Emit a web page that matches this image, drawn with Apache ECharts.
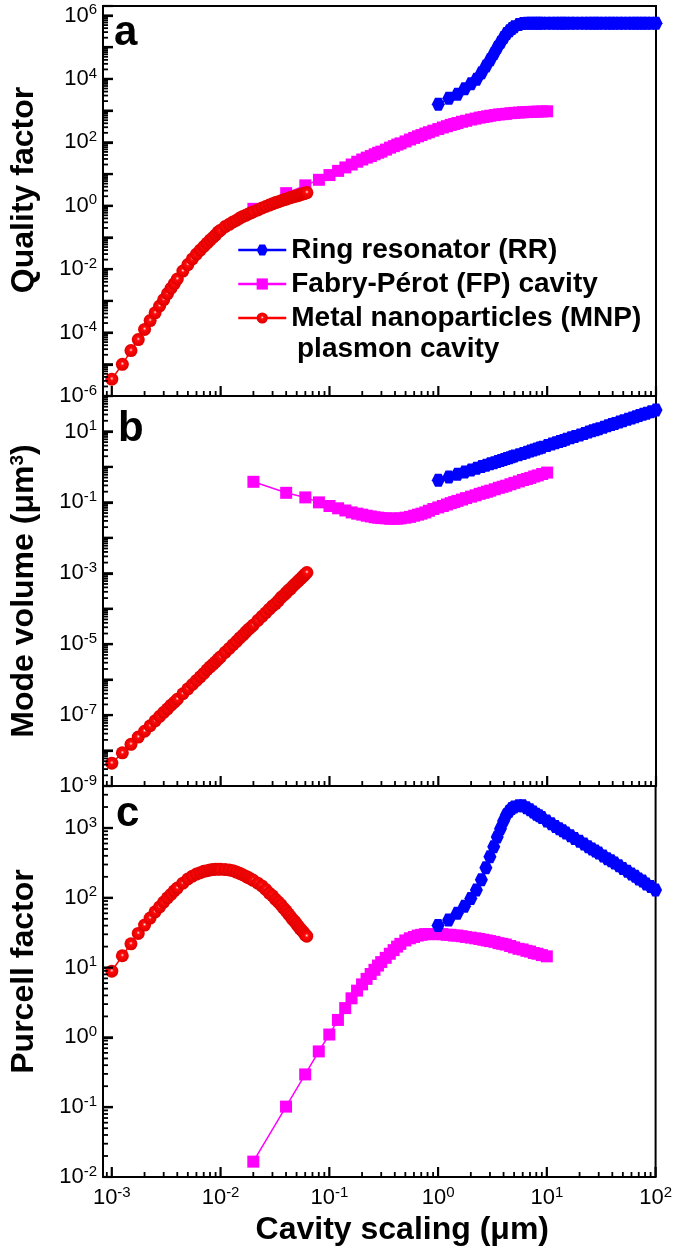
<!DOCTYPE html>
<html>
<head>
<meta charset="utf-8">
<script src="https://cdn.jsdelivr.net/npm/echarts@6/dist/echarts.min.js"></script>
<style>
html,body{margin:0;padding:0;background:#fff;}
#chart{width:675px;height:1256px;}
</style>
</head>
<body>
<div id="chart"></div>
<script>
// ---------------- DATA ----------------
const MNP_x = [0.001,0.00125,0.0015,0.00175,0.002,0.00225,0.0025,0.00275,0.003,0.00325,0.0035,0.00375,0.004,
  0.0045,0.005,0.0055,0.006,0.0065,0.007,0.0075,0.008,0.0085,0.009,0.0095,
  0.010,0.011,0.012,0.013,0.014,0.015,0.016,0.017,0.018,0.019,0.020,
  0.022,0.024,0.026,0.028,0.030,0.032,0.034,0.036,0.038,0.040,0.042,0.044,0.046,0.048,0.050,0.052,0.054,0.056,0.058,0.060,0.062];
const FP_x = [0.02,0.04,0.06,0.08,0.10,0.12,0.14,0.16,0.18,0.20,0.22,0.24,0.26,0.28,0.30,
  0.33,0.36,0.39,0.42,0.45,0.5,0.55,0.6,0.65,0.7,0.76,0.82,0.9,
  1.0,1.1,1.2,1.3,1.4,1.5,1.65,1.8,2.0,2.2,2.4,2.6,2.8,3.0,
  3.3,3.6,3.9,4.2,4.6,5.0,5.5,6.0,6.5,7.0,7.6,8.2,9.0,10.0];
const RR_x = [1,1.25,1.5,1.75,2,2.25,2.5,2.75,3,3.25,3.5,3.75,4,4.25,4.5,4.75,5,
  5.5,6,6.5,7,7.5,8,8.5,9,10,11,12,13,14,15,16.5,18,20,22,24,26,28,30,
  33,36,39,42,46,50,55,60,65,70,76,82,90,100];

// (a) Quality factor
const MNP_Q = [3.4e-6,1.0e-5,2.7e-5,6.0e-5,1.26e-4,2.4e-4,4.2e-4,6.9e-4,1.1e-3,1.7e-3,2.5e-3,3.5e-3,4.9e-3,
  8.7e-3,0.014,0.021,0.030,0.040,0.052,0.066,0.083,0.10,0.12,0.15,
  0.17,0.22,0.26,0.31,0.35,0.41,0.46,0.50,0.55,0.60,0.65,
  0.74,0.85,0.95,1.05,1.15,1.26,1.35,1.44,1.55,1.62,1.74,1.82,1.9,2.0,2.05,2.14,2.24,2.34,2.4,2.5,2.6];
const FP_Q = [0.8,2.5,4.4,6.6,9.3,12.6,16.2,20,24.5,28.8,33,37,42,47,51,
  59,68,76,85,93,107,123,138,155,170,190,209,234,
  263,295,324,355,380,407,447,479,525,562,603,631,661,692,
  724,759,776,794,832,851,871,891,902,912,923,933,944,955];
const RR_Q = [1580,2450,3310,4900,7080,9800,15800,25700,40700,63000,1.0e5,1.45e5,2.04e5,2.69e5,3.31e5,3.89e5,4.47e5,
  5.25e5,5.6e5,5.75e5,5.75e5,5.75e5,5.75e5,5.75e5,5.75e5,5.75e5,5.75e5,5.75e5,5.75e5,5.75e5,5.75e5,5.75e5,5.75e5,
  5.75e5,5.75e5,5.75e5,5.75e5,5.75e5,5.75e5,5.75e5,5.75e5,5.75e5,5.75e5,5.75e5,5.75e5,5.75e5,5.75e5,5.75e5,5.75e5,
  5.75e5,5.75e5,5.75e5,5.75e5];

// (b) Mode volume (µm^3)
const MNP_V = [4.4e-9,8.6e-9,1.5e-8,2.4e-8,3.5e-8,5.0e-8,6.9e-8,9.2e-8,1.2e-7,1.5e-7,1.9e-7,2.3e-7,2.8e-7,
  4.0e-7,5.5e-7,7.3e-7,9.5e-7,1.2e-6,1.5e-6,1.9e-6,2.3e-6,2.7e-6,3.2e-6,3.8e-6,
  4.4e-6,5.9e-6,7.6e-6,9.7e-6,1.2e-5,1.5e-5,1.8e-5,2.2e-5,2.6e-5,3.0e-5,3.5e-5,
  4.7e-5,6.1e-5,7.7e-5,9.7e-5,1.2e-4,1.4e-4,1.7e-4,2.1e-4,2.4e-4,2.8e-4,3.3e-4,3.7e-4,4.3e-4,4.9e-4,5.5e-4,6.2e-4,6.9e-4,7.7e-4,8.6e-4,9.5e-4,1.05e-3];
const FP_V = [0.38,0.186,0.138,0.100,0.079,0.068,0.059,0.052,0.048,0.045,0.042,0.040,0.038,0.037,0.036,
  0.0355,0.0347,0.0347,0.0347,0.0355,0.037,0.039,0.042,0.045,0.048,0.052,0.058,0.065,
  0.072,0.079,0.087,0.095,0.102,0.110,0.120,0.132,0.145,0.158,0.174,0.186,0.200,0.214,
  0.234,0.257,0.275,0.295,0.324,0.355,0.389,0.427,0.457,0.490,0.537,0.575,0.631,0.692];
const RR_V = [0.42,0.52,0.62,0.72,0.82,0.92,1.02,1.12,1.22,1.32,1.42,1.52,1.62,1.72,1.82,1.92,2.02,
  2.2,2.4,2.6,2.8,3.0,3.2,3.4,3.6,4.0,4.4,4.8,5.2,5.6,6.0,6.6,7.2,8.0,8.8,9.6,10.4,11.2,12,
  13.2,14.4,15.6,16.8,18.4,20,22,24,26,28,30.4,32.8,36,40];

// (c) Purcell factor
const MNP_F = [8.9,14.8,21.9,30.9,40.7,51.3,63,74,87,100,112,126,138,
  162,186,204,219,229,240,245,251,254,257,257,
  257,254,251,245,234,224,214,204,195,186,178,
  162,148,132,117,107,95,87,79,71,65,59,54,49,46,42,39,36,34,32,29.5,28.2];
const FP_F = [0.0166,0.102,0.295,0.63,1.10,1.78,2.63,3.63,4.68,5.75,6.9,8.1,9.3,10.7,12.0,
  13.8,15.8,17.8,20.0,21.9,24.5,26.3,27.5,28.8,29.5,30.2,30.2,30.2,
  30.2,30.2,29.5,29.5,28.8,28.8,28.2,27.5,26.9,26.3,25.7,25.1,24.5,24.0,
  23.4,22.4,21.9,21.4,20.4,19.5,18.6,18.2,17.4,17.0,16.2,15.8,15.1,14.5];
const RR_F = [40,48,60,76,98,129,182,269,389,537,741,977,1260,1550,1740,1900,2000,
  2090,2090,1950,1820,1700,1580,1500,1410,1260,1150,1050,977,912,851,776,708,646,589,537,501,468,437,
  398,363,339,316,288,263,240,219,204,186,174,158,145,129];

// Tick labels (decade values)
const xTickLabels = [1e-3, 1e-2, 1e-1, 1, 1e1, 1e2];
const qTickLabels = [1e-6, 1e-4, 1e-2, 1, 1e2, 1e4, 1e6];
const vTickLabels = [1e-9, 1e-7, 1e-5, 1e-3, 1e-1, 1e1];
const fTickLabels = [1e-2, 1e-1, 1, 1e1, 1e2, 1e3];

const seriesNames = ['Ring resonator (RR)', 'Fabry-Pérot (FP) cavity', 'Metal nanoparticles (MNP)'];
const yTitles = ['Quality factor', 'Mode volume (μm{sup|3})', 'Purcell factor'];
const xTitle = 'Cavity scaling (μm)';
const panelLetters = ['a', 'b', 'c'];

// ---------------- helpers ----------------
const FONT = '"Liberation Sans", Arial, Helvetica, sans-serif';
function decades(lo, hi) { const o = []; for (let e = lo; e <= hi; e++) o.push(Math.pow(10, e)); return o; }
function minors(lo, hi) { const o = []; for (let e = lo; e < hi; e++) for (let m = 2; m <= 9; m++) o.push(m * Math.pow(10, e)); return o; }

const X_MIN = 8.3e-4, X_MAX = 100;
const xMajor = decades(-3, 2);
const xMinor = minors(-4, 2).filter(v => v > X_MIN && v < X_MAX);

const panels = [
  { top: 6,   height: 390, min: 1e-6, max: 2e6,  major: decades(-5, 6), minorT: minors(-6, 7).filter(v => v < 2e6), labels: qTickLabels,
    ys: { RR: RR_Q, FP: FP_Q, MNP: MNP_Q }, namePad: [0, 0, 0, 22] },
  { top: 396, height: 390, min: 1e-9, max: 1e2,  major: decades(-8, 1), minorT: minors(-9, 2), labels: vTickLabels,
    ys: { RR: RR_V, FP: FP_V, MNP: MNP_V }, namePad: [0, 0, 0, 0] },
  { top: 786, height: 391, min: 1e-2, max: 4000, major: decades(-1, 3), minorT: minors(-2, 4).filter(v => v < 4000), labels: fTickLabels,
    ys: { RR: RR_F, FP: FP_F, MNP: MNP_F }, namePad: [0, 0, 0, 20] }
];

function pow10Label(v) {
  const e = Math.round(Math.log10(v));
  return '{b|10}{s|' + e + '}';
}
const labelRich = {
  b: { fontSize: 22, fontFamily: FONT, color: '#000', lineHeight: 26 },
  s: { fontSize: 15, fontFamily: FONT, color: '#000', lineHeight: 14, verticalAlign: 'top' }
};

const MAJ_LEN = 10, MIN_LEN = 5, MAJ_W = 2.2, MIN_W = 1.8;

const grids = [], xAxes = [], yAxes = [], series = [];
const sphere = {
  type: 'radial', x: 0.5, y: 0.45, r: 0.5,
  colorStops: [
    { offset: 0, color: '#ffffff' },
    { offset: 0.1, color: '#ff9090' },
    { offset: 0.28, color: '#ff0a0a' },
    { offset: 1, color: '#e00000' }
  ]
};
const HEX = 'path://M4,0 L12,0 L16,7 L12,14 L4,14 L0,7 Z';

// Tick marks: position along the axis from the axis scale (api.coord), base at the grid edge (coordSys rect)
function xTickRender(params, api) {
  const cs = params.coordSys;
  const x = api.coord([api.value(0), api.value(1)])[0];
  const yb = cs.y + cs.height;
  const major = api.value(2) === 1;
  const L = major ? MAJ_LEN : MIN_LEN;
  return { type: 'line', shape: { x1: x, y1: yb, x2: x, y2: yb - L },
    style: { stroke: '#000', lineWidth: major ? MAJ_W : MIN_W } };
}
function yTickRender(params, api) {
  const cs = params.coordSys;
  const y = api.coord([api.value(0), api.value(1)])[1];
  const xl = cs.x;
  const major = api.value(2) === 1;
  const L = major ? MAJ_LEN : MIN_LEN;
  return { type: 'line', shape: { x1: xl, y1: y, x2: xl + L, y2: y },
    style: { stroke: '#000', lineWidth: major ? MAJ_W : MIN_W } };
}

panels.forEach((p, g) => {
  grids.push({ left: 103, right: 19, top: p.top, height: p.height, show: true,
    borderColor: '#000', borderWidth: 2, backgroundColor: 'transparent' });
  const last = g === 2;
  xAxes.push({
    type: 'log', gridIndex: g, min: X_MIN, max: X_MAX, position: 'bottom',
    axisLine: { show: false, onZero: false }, splitLine: { show: false }, axisTick: { show: false },
    axisLabel: { show: last, customValues: xTickLabels, formatter: pow10Label, rich: labelRich, margin: 8 },
    name: last ? xTitle : '', nameLocation: 'middle', nameGap: 37,
    nameTextStyle: { fontSize: 32, fontWeight: 'bold', fontFamily: FONT, color: '#000', padding: [0, 0, 0, 46] }
  });
  yAxes.push({
    type: 'log', gridIndex: g, min: p.min, max: p.max, position: 'left', interval: 1,
    axisLine: { show: false, onZero: false }, splitLine: { show: false },
    axisTick: { show: true, inside: true, length: MAJ_LEN, lineStyle: { color: '#000', width: MAJ_W } },
    axisLabel: { show: true, customValues: p.labels, formatter: pow10Label, rich: labelRich, margin: 6 },
    name: yTitles[g], nameLocation: 'middle', nameGap: 63,
    nameTextStyle: { fontSize: 32, fontWeight: 'bold', fontFamily: FONT, color: '#000', padding: p.namePad,
      rich: { sup: { fontSize: 19, fontWeight: 'bold', fontFamily: FONT, color: '#000', verticalAlign: 'top', lineHeight: 19 } } }
  });

  const defs = [
    { key: 'FP', name: seriesNames[1], xs: FP_x, color: '#ff00ff', symbol: 'rect', size: 12, item: '#ff00ff' },
    { key: 'RR', name: seriesNames[0], xs: RR_x, color: '#0000ff', symbol: HEX, size: 13, item: '#0000ff' },
    { key: 'MNP', name: seriesNames[2], xs: MNP_x, color: '#ff0000', symbol: 'circle', size: 13, item: sphere }
  ];
  defs.forEach(d => {
    const ys = p.ys[d.key];
    series.push({
      type: 'line', name: d.name, xAxisIndex: g, yAxisIndex: g,
      data: d.xs.map((x, i) => [x, ys[i]]),
      symbol: d.symbol, symbolSize: d.size, showAllSymbol: true,
      lineStyle: { color: d.color, width: 1.5 },
      itemStyle: { color: d.item, borderWidth: 0 },
      emphasis: { disabled: true }, silent: true, clip: true
    });
  });

  // x ticks: values along x, evaluated at y = 1 (inside every panel's range)
  series.push({
    type: 'custom', name: 'xticks' + g, xAxisIndex: g, yAxisIndex: g, silent: true, z: 10, clip: false,
    encode: { x: 0, y: 1 },
    data: xMajor.map(v => [v, 1, 1]).concat(xMinor.map(v => [v, 1, 0])),
    renderItem: xTickRender
  });
  // y ticks: values along y, evaluated at x = 1 (inside the x range)
  series.push({
    type: 'custom', name: 'yticks' + g, xAxisIndex: g, yAxisIndex: g, silent: true, z: 10, clip: false,
    encode: { x: 0, y: 1 },
    data: p.major.map(v => [1, v, 1]).concat(p.minorT.map(v => [1, v, 0])),
    renderItem: yTickRender
  });
});

const graphics = panelLetters.map((t, g) => ({
  type: 'text', x: [114, 118, 116][g], y: panels[g].top + [27, 33, 28][g],
  style: { text: t, font: 'bold 42px ' + FONT, fill: '#000', verticalAlign: 'middle' }, z: 100
}));
graphics.push({ type: 'text', x: 297, y: 349,
  style: { text: 'plasmon cavity', font: 'bold 28px ' + FONT, fill: '#000', verticalAlign: 'middle' }, z: 100 });

const chart = echarts.init(document.getElementById('chart'), null, { renderer: 'canvas' });
chart.setOption({
  animation: false,
  backgroundColor: '#fff',
  grid: grids,
  xAxis: xAxes,
  yAxis: yAxes,
  legend: {
    data: seriesNames, orient: 'vertical', left: 232, top: 231,
    itemWidth: 48, itemHeight: 14, itemGap: 6, selectedMode: false,
    lineStyle: { width: 2.5 },
    textStyle: { fontSize: 28, fontWeight: 'bold', fontFamily: FONT, color: '#000' }
  },
  graphic: graphics,
  series: series
});
</script>
</body>
</html>
